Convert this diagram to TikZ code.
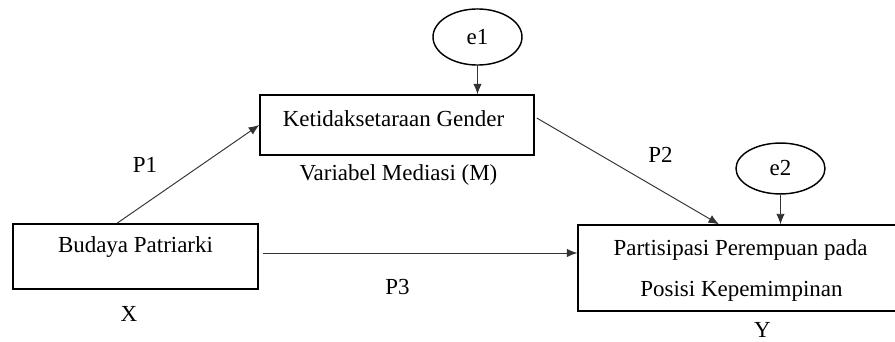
\documentclass[tikz,border=0pt]{standalone}
\usepackage{fontspec}
\setmainfont{Liberation Serif}
\usetikzlibrary{arrows.meta,shapes.geometric}
\begin{document}
\begin{tikzpicture}[x=0.5225pt,y=-0.5225pt,
                every node/.style={font=\fontsize{12}{14}\selectfont},
                varbox/.style={draw,line width=0.75pt,inner sep=0pt},
                errnode/.style={draw,ellipse,line width=0.75pt,inner sep=0pt,minimum width=46.5pt},
                txt/.style={anchor=base,inner sep=0pt},
                link/.style={line width=0.5pt,draw=black!80,-{Latex[length=5.5pt,width=4.5pt]}}]
                \useasboundingbox (0,0) rectangle (895,342);

                % boxes and error terms
                \node[varbox,minimum width=128pt,minimum height=34pt] (X) at (135.5,256.5) {};
                \node[varbox,minimum width=143.2pt,minimum height=31.35pt] (M) at (397,125) {};
                \node[varbox,minimum width=168.2pt,minimum height=44.9pt] (Y) at (739,268) {};
                \node[errnode,minimum height=29.3pt] (e1) at (477.5,37) {e1};
                \node[errnode,minimum height=26.6pt] (e2) at (780.5,168.5) {e2};

                % texts
                \node[txt] (xtext) at (135.5,252) {Budaya Patriarki};
                \node[txt] (mtext) at (393.5,126) {Ketidaksetaraan Gender};
                \node[txt] (ytexta) at (740.5,255) {Partisipasi Perempuan pada};
                \node[txt] (ytextb) at (741.5,296) {Posisi Kepemimpinan};
                \node[txt] (mlabel) at (398.5,180) {Variabel Mediasi (M)};
                \node[txt] (xlabel) at (129,321) {X};
                \node[txt] (ylabel) at (762.5,337) {Y};
                \node[txt] (p1) at (145,172) {P1};
                \node[txt] (p2) at (660.5,163) {P2};
                \node[txt] (p3) at (397.5,294) {P3};

                % paths
                \coordinate (p3start) at ([shift={(4,-3.5)}]X.east);
                \draw[link] ([shift={(-18.5,0)}]X.north) -- (M.west);
                \draw[link] ([shift={(2,-7)}]M.east) -- ([shift={(-20,0)}]Y.north);
                \draw[link] (p3start) -- (p3start -| Y.west);
                \draw[link] (e1.south) -- (e1.south |- M.north);
                \draw[link] (e2.south) -- (e2.south |- Y.north);
            \end{tikzpicture}
\end{document}
